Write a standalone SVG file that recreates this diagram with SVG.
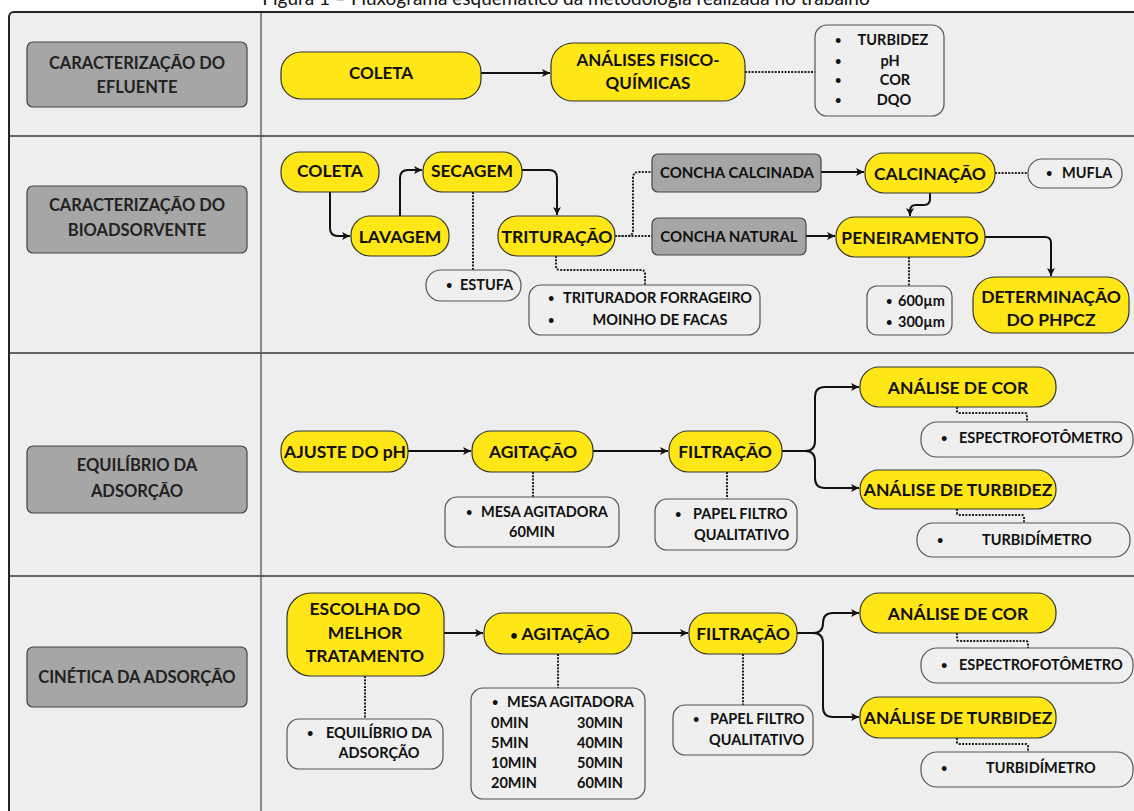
<svg xmlns="http://www.w3.org/2000/svg" width="1134" height="811" viewBox="0 0 1134 811">
<defs>
<marker id="ah" markerUnits="userSpaceOnUse" markerWidth="10" markerHeight="10" refX="8" refY="5" orient="auto">
<path d="M0,1 L8,5 L0,9 L2,5 Z" fill="#111"/>
</marker>
<style>
text{font-family:Lato,"Open Sans","DejaVu Sans",sans-serif;font-weight:bold;fill:#111}
.cap{font-weight:normal;font-size:19px}
.lab{font-size:16.5px;fill:#222;text-anchor:middle}
.big{font-size:17.5px;text-anchor:middle}
.mid{font-size:17px;text-anchor:middle}
.gr{font-size:15px;text-anchor:middle}
.sm{font-size:14.5px}
.smc{font-size:14.5px;text-anchor:middle}
.b{font-size:11px}
.y{fill:#FFE617;stroke:#333;stroke-width:1.2}
.g{fill:#A6A6A6;stroke:#444;stroke-width:1.2}
.w{fill:#EFEFEF;stroke:#555;stroke-width:1.2}
.ar{fill:none;stroke:#111;stroke-width:2;marker-end:url(#ah)}
.ln{fill:none;stroke:#111;stroke-width:2}
.dt{fill:none;stroke:#222;stroke-width:2;stroke-dasharray:2 1.3}
</style>
</defs>
<rect x="0" y="0" width="1134" height="811" fill="#fff"/>
<text class="cap" x="566" y="5" text-anchor="middle">Figura 1 – Fluxograma esquemático da metodologia realizada no trabalho</text>
<g id="frame">
<rect x="9" y="12" width="1140" height="820" rx="5" fill="#EEEEEE" stroke="#222" stroke-width="2"/>
<line x1="9" y1="136" x2="1134" y2="136" stroke="#333" stroke-width="1.6"/>
<line x1="9" y1="353" x2="1134" y2="353" stroke="#333" stroke-width="1.6"/>
<line x1="9" y1="576" x2="1134" y2="576" stroke="#333" stroke-width="1.6"/>
<line x1="261" y1="13" x2="261" y2="811" stroke="#555" stroke-width="1.3"/>
</g>

<g id="connectors">
<path class="ar" d="M481,73 H550"/>
<path class="dt" d="M745,72 H815"/>
<path class="ar" d="M330,192 V228 Q330,236 338,236 H350"/>
<path class="ar" d="M400,216 V178 Q400,170 408,170 H422"/>
<path class="ar" d="M522,170 H549 Q557,170 557,178 V215"/>
<path class="ar" d="M821,172 H864"/>
<path class="ar" d="M806,236 H835"/>
<path class="ar" d="M930,193 V199 Q930,205 924,205 H916 Q910,205 910,211 V216"/>
<path class="ar" d="M985,237 H1045 Q1051,237 1051,243 V276"/>
<path class="dt" d="M473,192 V270"/>
<path class="dt" d="M556,256 V266 Q556,270 560,270 H641 Q645,270 645,274 V285"/>
<path class="dt" d="M615,236 H627 Q633,236 633,230 V178 Q633,172 639,172 H652"/>
<path class="dt" d="M615,236 H652"/>
<path class="dt" d="M995,173 H1028"/>
<path class="dt" d="M909,257 V286"/>
<path class="ar" d="M408,451 H471"/>
<path class="ar" d="M593,451 H668"/>
<path class="ln" d="M782,451 H805 Q815,451 815,441 V397 Q815,387 825,387 H835"/>
<path class="ar" d="M835,387 H859"/>
<path class="ln" d="M805,451 Q815,451 815,461 V478 Q815,488 825,488 H835"/>
<path class="ar" d="M835,488 H859"/>
<path class="dt" d="M533,472 V497"/>
<path class="dt" d="M727,472 V499"/>
<path class="dt" d="M957,407 V411 Q957,413 959,413 H1025 Q1027,413 1027,415 V422"/>
<path class="dt" d="M957,509 V513 Q957,515 959,515 H1022 Q1024,515 1024,517 V523"/>
<path class="ar" d="M444,633 H483"/>
<path class="ar" d="M632,633 H688"/>
<path class="ln" d="M797,633 H813 Q823,633 823,623 Q823,613 833,613 H840"/>
<path class="ar" d="M840,613 H859"/>
<path class="ln" d="M813,633 Q823,633 823,643 V707 Q823,717 833,717 H840"/>
<path class="ar" d="M840,717 H859"/>
<path class="dt" d="M365,676 V719"/>
<path class="dt" d="M558,654 V688"/>
<path class="dt" d="M743,654 V705"/>
<path class="dt" d="M957,633 V639 Q957,641 959,641 H1026 Q1028,641 1028,643 V648"/>
<path class="dt" d="M957,738 V742 Q957,744 959,744 H1026 Q1028,744 1028,746 V752"/>
</g>

<g id="lab1"><rect class="g" x="27" y="42" width="220" height="65" rx="6"/><text class="lab" x="137" y="69">CARACTERIZAÇÃO DO</text><text class="lab" x="137" y="93">EFLUENTE</text></g>
<g id="r1-coleta"><rect class="y" x="281" y="52" width="200" height="47" rx="20"/><text class="mid" x="381" y="79">COLETA</text></g>
<g id="r1-analises"><rect class="y" x="551" y="43" width="194" height="58" rx="22"/><text class="mid" x="648" y="66">ANÁLISES FISICO-</text><text class="mid" x="648" y="89">QUÍMICAS</text></g>
<g id="r1-list"><rect class="w" x="815" y="25" width="129" height="91" rx="12"/>
<text class="b" x="835" y="44">•</text><text class="b" x="835" y="65">•</text><text class="b" x="835" y="84">•</text><text class="b" x="835" y="104">•</text>
<text class="smc" x="893" y="45">TURBIDEZ</text><text class="smc" x="890" y="66">pH</text><text class="smc" x="895" y="85">COR</text><text class="smc" x="894" y="105">DQO</text></g>

<g id="lab2"><rect class="g" x="27" y="186" width="220" height="67" rx="6"/><text class="lab" x="137" y="211">CARACTERIZAÇÃO DO</text><text class="lab" x="137" y="236">BIOADSORVENTE</text></g>
<g id="r2-coleta"><rect class="y" x="281" y="152" width="98" height="40" rx="19"/><text class="big" x="330" y="177">COLETA</text></g>
<g id="r2-lavagem"><rect class="y" x="351" y="216" width="98" height="40" rx="19"/><text class="big" x="400" y="243">LAVAGEM</text></g>
<g id="r2-secagem"><rect class="y" x="423" y="152" width="99" height="40" rx="19"/><text class="big" x="472" y="177">SECAGEM</text></g>
<g id="r2-trituracao"><rect class="y" x="498" y="216" width="117" height="40" rx="19"/><text class="big" x="557" y="243">TRITURAÇÃO</text></g>
<g id="r2-estufa"><rect class="w" x="426" y="270" width="95" height="31" rx="15"/><text class="b" x="446" y="289">•</text><text class="sm" x="460" y="290">ESTUFA</text></g>
<g id="r2-triturador"><rect class="w" x="529" y="285" width="231" height="50" rx="12"/><text class="b" x="548" y="302">•</text><text class="sm" x="563" y="303">TRITURADOR FORRAGEIRO</text><text class="b" x="548" y="324">•</text><text class="smc" x="660" y="325">MOINHO DE FACAS</text></g>
<g id="r2-calcinada"><rect class="g" x="652" y="154" width="169" height="38" rx="6"/><text class="gr" x="737" y="178">CONCHA CALCINADA</text></g>
<g id="r2-natural"><rect class="g" x="652" y="218" width="154" height="37" rx="6"/><text class="gr" x="729" y="242">CONCHA NATURAL</text></g>
<g id="r2-calcinacao"><rect class="y" x="865" y="153" width="130" height="40" rx="19"/><text class="big" x="930" y="180">CALCINAÇÃO</text></g>
<g id="r2-mufla"><rect class="w" x="1028" y="159" width="94" height="29" rx="14"/><text class="b" x="1046" y="177">•</text><text class="sm" x="1062" y="178">MUFLA</text></g>
<g id="r2-peneiramento"><rect class="y" x="836" y="217" width="149" height="40" rx="19"/><text class="big" x="910" y="244">PENEIRAMENTO</text></g>
<g id="r2-malhas"><rect class="w" x="867" y="286" width="85" height="49" rx="10"/><text class="b" x="886" y="305">•</text><text class="sm" x="898" y="306">600µm</text><text class="b" x="886" y="326">•</text><text class="sm" x="898" y="327">300µm</text></g>
<g id="r2-determinacao"><rect class="y" x="973" y="277" width="156" height="56" rx="22"/><text class="big" x="1051" y="303">DETERMINAÇÃO</text><text class="big" x="1051" y="326">DO PHPCZ</text></g>

<g id="lab3"><rect class="g" x="27" y="446" width="220" height="67" rx="6"/><text class="lab" x="137" y="471">EQUILÍBRIO DA</text><text class="lab" x="137" y="497">ADSORÇÃO</text></g>
<g id="r3-ajuste"><rect class="y" x="281" y="431" width="127" height="41" rx="19"/><text class="big" x="345" y="458">AJUSTE DO pH</text></g>
<g id="r3-agitacao"><rect class="y" x="472" y="431" width="121" height="41" rx="19"/><text class="big" x="533" y="458">AGITAÇÃO</text></g>
<g id="r3-filtracao"><rect class="y" x="669" y="431" width="113" height="41" rx="19"/><text class="big" x="725" y="458">FILTRAÇÃO</text></g>
<g id="r3-mesa"><rect class="w" x="445" y="497" width="174" height="50" rx="12"/><text class="b" x="466" y="516">•</text><text class="sm" x="481" y="517">MESA AGITADORA</text><text class="smc" x="532" y="537">60MIN</text></g>
<g id="r3-papel"><rect class="w" x="655" y="499" width="142" height="51" rx="12"/><text class="b" x="675" y="518">•</text><text class="sm" x="693" y="519">PAPEL FILTRO</text><text class="sm" x="694" y="540">QUALITATIVO</text></g>
<g id="r3-cor"><rect class="y" x="860" y="367" width="196" height="40" rx="19"/><text class="big" x="958" y="394">ANÁLISE DE COR</text></g>
<g id="r3-espectro"><rect class="w" x="921" y="422" width="212" height="35" rx="16"/><text class="b" x="941" y="442">•</text><text class="sm" x="959" y="443">ESPECTROFOTÔMETRO</text></g>
<g id="r3-turbidez"><rect class="y" x="860" y="470" width="196" height="39" rx="19"/><text class="big" x="958" y="496">ANÁLISE DE TURBIDEZ</text></g>
<g id="r3-turbidimetro"><rect class="w" x="917" y="523" width="213" height="34" rx="16"/><text class="b" x="937" y="544">•</text><text class="sm" x="982" y="545">TURBIDÍMETRO</text></g>

<g id="lab4"><rect class="g" x="27" y="647" width="220" height="60" rx="6"/><text class="lab" x="137" y="683">CINÉTICA DA ADSORÇÃO</text></g>
<g id="r4-escolha"><rect class="y" x="287" y="593" width="157" height="83" rx="24"/><text class="big" x="365" y="615">ESCOLHA DO</text><text class="big" x="365" y="639">MELHOR</text><text class="big" x="365" y="662">TRATAMENTO</text></g>
<g id="r4-agitacao"><rect class="y" x="484" y="613" width="148" height="41" rx="19"/><text class="big" x="560" y="640"><tspan font-size="13">•</tspan> AGITAÇÃO</text></g>
<g id="r4-filtracao"><rect class="y" x="689" y="613" width="108" height="41" rx="19"/><text class="big" x="743" y="640">FILTRAÇÃO</text></g>
<g id="r4-equilibrio"><rect class="w" x="287" y="719" width="156" height="50" rx="12"/><text class="b" x="307" y="737">•</text><text class="sm" x="326" y="738">EQUILÍBRIO DA</text><text class="smc" x="379" y="758">ADSORÇÃO</text></g>
<g id="r4-mesa"><rect class="w" x="471" y="688" width="174" height="111" rx="12"/><text class="b" x="492" y="706">•</text><text class="sm" x="507" y="707">MESA AGITADORA</text>
<text class="sm" x="491" y="728">0MIN</text><text class="sm" x="577" y="728">30MIN</text>
<text class="sm" x="491" y="748">5MIN</text><text class="sm" x="577" y="748">40MIN</text>
<text class="sm" x="491" y="768">10MIN</text><text class="sm" x="577" y="768">50MIN</text>
<text class="sm" x="491" y="788">20MIN</text><text class="sm" x="577" y="788">60MIN</text></g>
<g id="r4-papel"><rect class="w" x="673" y="705" width="140" height="50" rx="12"/><text class="b" x="693" y="723">•</text><text class="sm" x="710" y="724">PAPEL FILTRO</text><text class="sm" x="709" y="745">QUALITATIVO</text></g>
<g id="r4-cor"><rect class="y" x="860" y="593" width="196" height="40" rx="19"/><text class="big" x="958" y="620">ANÁLISE DE COR</text></g>
<g id="r4-espectro"><rect class="w" x="921" y="648" width="212" height="35" rx="16"/><text class="b" x="941" y="669">•</text><text class="sm" x="959" y="670">ESPECTROFOTÔMETRO</text></g>
<g id="r4-turbidez"><rect class="y" x="860" y="697" width="196" height="41" rx="19"/><text class="big" x="958" y="724">ANÁLISE DE TURBIDEZ</text></g>
<g id="r4-turbidimetro"><rect class="w" x="921" y="752" width="212" height="35" rx="16"/><text class="b" x="941" y="772">•</text><text class="sm" x="986" y="773">TURBIDÍMETRO</text></g>
</svg>
